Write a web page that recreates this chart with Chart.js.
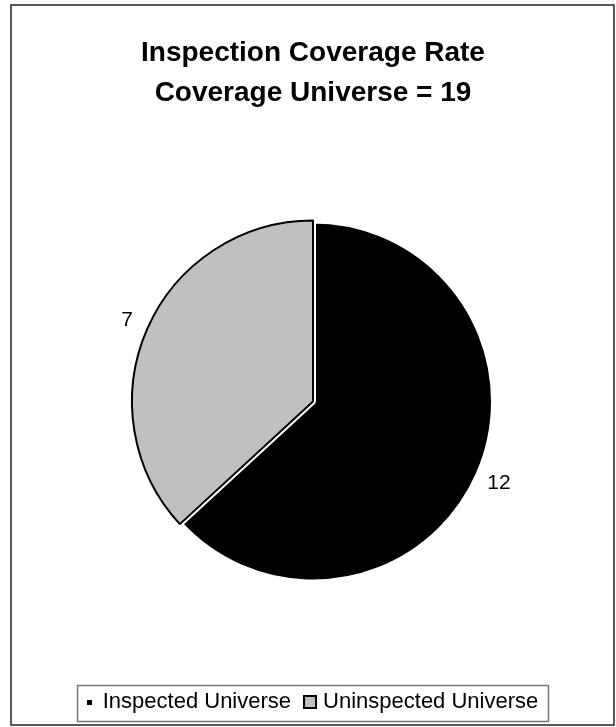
<!DOCTYPE html>
<html>
<head>
<meta charset="utf-8">
<script src="https://cdn.jsdelivr.net/npm/chart.js@4/dist/chart.umd.min.js"></script>
<style>
  html, body { margin: 0; padding: 0; background: #ffffff; }
  #wrap { width: 616px; height: 727px; }
</style>
</head>
<body>
<div id="wrap"><canvas id="c" width="616" height="727"></canvas></div>
<script>
const titleLines = ['Inspection Coverage Rate', 'Coverage Universe = 19'];
const categories = ['Inspected Universe', 'Uninspected Universe'];
const values = [12, 7];
const fillColors = ['#000000', '#c0c0c0'];
const edgeColors = ['#ffffff', '#000000'];
const edgeWidths = [6, 2];
const FONT = "'Liberation Sans', Arial, sans-serif";

function makeMarker(size, fill, stroke, lw) {
  const c = document.createElement('canvas');
  c.width = size; c.height = size;
  const g = c.getContext('2d');
  g.fillStyle = fill;
  g.fillRect(0, 0, size, size);
  if (lw > 0) {
    g.strokeStyle = stroke;
    g.lineWidth = lw;
    g.strokeRect(lw / 2, lw / 2, size - lw, size - lw);
  }
  return c;
}
const markers = [
  makeMarker(5, '#000000', '#000000', 0),
  makeMarker(14, '#c0c0c0', '#000000', 2)
];

const framePlugin = {
  id: 'frame',
  beforeDraw(chart) {
    const ctx = chart.ctx;
    ctx.save();
    ctx.fillStyle = '#ffffff';
    ctx.fillRect(0, 0, chart.width, chart.height);
    ctx.strokeStyle = '#222222';
    ctx.lineWidth = 1.5;
    ctx.strokeRect(11, 5, 603, 720);
    ctx.restore();
  }
};

const sliceLabelPlugin = {
  id: 'sliceLabels',
  afterDatasetsDraw(chart) {
    const ctx = chart.ctx;
    const meta = chart.getDatasetMeta(0);
    ctx.save();
    ctx.font = '21px ' + FONT;
    ctx.fillStyle = '#000000';
    ctx.textAlign = 'center';
    ctx.textBaseline = 'middle';
    meta.data.forEach((arc, i) => {
      const p = arc.getProps(['x', 'y', 'startAngle', 'endAngle', 'outerRadius'], true);
      const mid = (p.startAngle + p.endAngle) / 2;
      const r = p.outerRadius + 22;
      ctx.fillText(String(chart.data.datasets[0].data[i]), p.x + Math.cos(mid) * r, p.y + Math.sin(mid) * r);
    });
    ctx.restore();
  }
};

const legendBoxPlugin = {
  id: 'legendBox',
  afterDraw(chart) {
    const lg = chart.legend;
    if (!lg || !lg.legendHitBoxes || !lg.legendHitBoxes.length) return;
    const boxes = lg.legendHitBoxes;
    let l = Infinity, r = -Infinity, t = Infinity, b = -Infinity;
    boxes.forEach(h => { l = Math.min(l, h.left); r = Math.max(r, h.left + h.width); t = Math.min(t, h.top); b = Math.max(b, h.top + h.height); });
    const cy = (t + b) / 2;
    const ctx = chart.ctx;
    ctx.save();
    ctx.strokeStyle = '#777777';
    ctx.lineWidth = 1.5;
    const x0 = Math.round(l - 11), x1 = Math.round(r + 10);
    const y0 = Math.round(cy - 17), y1 = Math.round(cy + 19);
    ctx.strokeRect(x0 + 0.5, y0 + 0.5, x1 - x0, y1 - y0);
    ctx.restore();
  }
};

new Chart(document.getElementById('c'), {
  type: 'pie',
  data: {
    labels: categories,
    datasets: [{
      data: values,
      backgroundColor: fillColors,
      borderColor: edgeColors,
      borderWidth: edgeWidths,
      radius: 181
    }]
  },
  options: {
    responsive: false,
    animation: false,
    devicePixelRatio: 1,
    layout: { padding: { top: 0, left: 12, right: 2, bottom: 4 } },
    plugins: {
      title: {
        display: true,
        text: titleLines,
        color: '#000000',
        font: { family: FONT, size: 28, weight: 'bold', lineHeight: 1.43 },
        padding: { top: 33, bottom: 16 }
      },
      legend: {
        display: true,
        position: 'bottom',
        labels: {
          color: '#000000',
          font: { family: FONT, size: 22 },
          usePointStyle: true,
          pointStyleWidth: 4,
          boxWidth: 4,
          boxHeight: 14,
          padding: 17,
          generateLabels(chart) {
            return chart.data.labels.map((lab, i) => ({
              text: lab,
              fillStyle: fillColors[i],
              strokeStyle: '#000000',
              lineWidth: 0,
              pointStyle: markers[i],
              hidden: false,
              index: i
            }));
          }
        }
      },
      tooltip: { enabled: false }
    }
  },
  plugins: [framePlugin, sliceLabelPlugin, legendBoxPlugin]
});
</script>
</body>
</html>
